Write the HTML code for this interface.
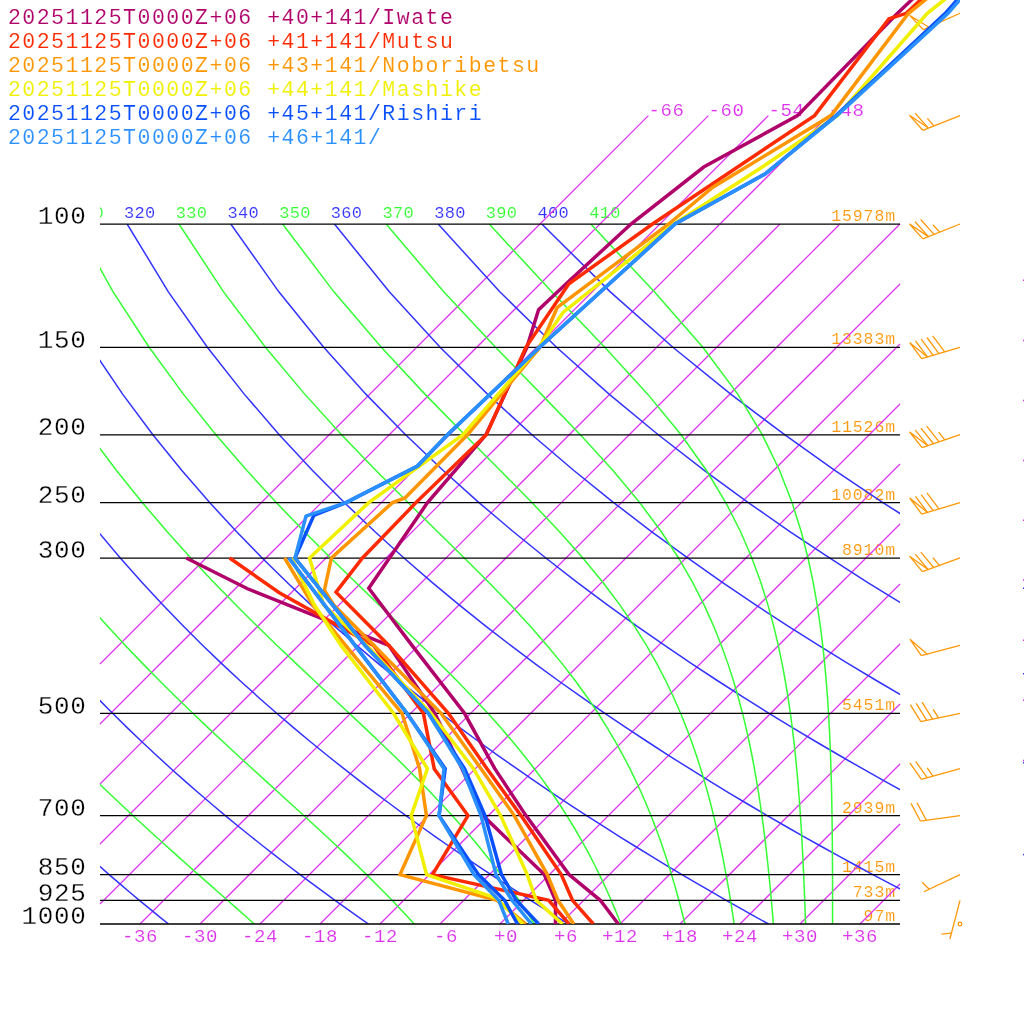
<!DOCTYPE html>
<html lang="en"><head><meta charset="utf-8"><title>Emagram 20251125T0000Z+06</title>
<style>html,body{margin:0;padding:0;background:#fff}body{width:1024px;height:1024px;overflow:hidden}svg{display:block}text{font-family:"Liberation Mono","DejaVu Sans Mono",monospace;stroke:#fff;stroke-width:0.12px;paint-order:fill stroke;stroke-linejoin:round}.plab text{stroke-width:0.3px}.iso{stroke:#DD33EE;fill:none;stroke-width:1.25}.dry{stroke:#3333FF;fill:none;stroke-width:1.5}.wet{stroke:#33FF33;fill:none;stroke-width:1.5}.pl{stroke:#000;stroke-width:1.3;fill:none}.prof{fill:none;stroke-width:3.5;stroke-linejoin:miter;stroke-linecap:butt}.barb{stroke:#FF9808;fill:none;stroke-width:1.3}</style></head><body>
<svg width="1024" height="1024" viewBox="0 0 1024 1024">
<defs><clipPath id="cf"><rect x="100" y="224" width="800" height="700"/></clipPath><clipPath id="cl"><rect x="100" y="0" width="800" height="224"/></clipPath><clipPath id="cp"><rect x="0" y="0" width="960" height="924"/></clipPath></defs>
<g font-size="21.5" letter-spacing="1.5">
<text x="7.9" y="24" fill="#B0006A">20251125T0000Z+06 +40+141/Iwate</text>
<text x="7.9" y="48" fill="#FF2A00">20251125T0000Z+06 +41+141/Mutsu</text>
<text x="7.9" y="72" fill="#FF9600">20251125T0000Z+06 +43+141/Noboribetsu</text>
<text x="7.9" y="96" fill="#F0F000">20251125T0000Z+06 +44+141/Mashike</text>
<text x="7.9" y="120" fill="#0850FF">20251125T0000Z+06 +45+141/Rishiri</text>
<text x="7.9" y="144" fill="#2A90FF">20251125T0000Z+06 +46+141/</text>
</g>
<g font-size="17" letter-spacing="0.3" clip-path="url(#cl)">
<text x="72.4" y="218.2" fill="#33FF33">310</text>
<text x="124.08" y="218.2" fill="#3333FF">320</text>
<text x="175.76" y="218.2" fill="#33FF33">330</text>
<text x="227.45" y="218.2" fill="#3333FF">340</text>
<text x="279.13" y="218.2" fill="#33FF33">350</text>
<text x="330.81" y="218.2" fill="#3333FF">360</text>
<text x="382.49" y="218.2" fill="#33FF33">370</text>
<text x="434.18" y="218.2" fill="#3333FF">380</text>
<text x="485.86" y="218.2" fill="#33FF33">390</text>
<text x="537.54" y="218.2" fill="#3333FF">400</text>
<text x="589.22" y="218.2" fill="#33FF33">410</text>
</g>
<g font-size="16.5" letter-spacing="0.9" fill="#FF9808" text-anchor="end">
<text x="896" y="221">15978m</text>
<text x="896" y="344.26">13383m</text>
<text x="896" y="431.72">11526m</text>
<text x="896" y="499.56">10082m</text>
<text x="896" y="554.98">8910m</text>
<text x="896" y="710.28">5451m</text>
<text x="896" y="812.57">2939m</text>
<text x="896" y="871.59">1415m</text>
<text x="896" y="897.3">733m</text>
<text x="896" y="921">97m</text>
</g>
<g>
<line class="iso" x1="100" y1="664" x2="648.4" y2="115.6"/>
<line class="iso" x1="100" y1="724" x2="708.4" y2="115.6"/>
<line class="iso" x1="100" y1="784" x2="768.4" y2="115.6"/>
<line class="iso" x1="100" y1="844" x2="828.4" y2="115.6"/>
<line class="iso" x1="100" y1="904" x2="780" y2="224"/>
<line class="iso" x1="140" y1="924" x2="840" y2="224"/>
<line class="iso" x1="200" y1="924" x2="900" y2="224"/>
<line class="iso" x1="260" y1="924" x2="900" y2="284"/>
<line class="iso" x1="320" y1="924" x2="900" y2="344"/>
<line class="iso" x1="380" y1="924" x2="900" y2="404"/>
<line class="iso" x1="440" y1="924" x2="900" y2="464"/>
<line class="iso" x1="500" y1="924" x2="900" y2="524"/>
<line class="iso" x1="560" y1="924" x2="900" y2="584"/>
<line class="iso" x1="620" y1="924" x2="900" y2="644"/>
<line class="iso" x1="680" y1="924" x2="900" y2="704"/>
<line class="iso" x1="740" y1="924" x2="900" y2="764"/>
<line class="iso" x1="800" y1="924" x2="900" y2="824"/>
<line class="iso" x1="860" y1="924" x2="900" y2="884"/>
</g>
<g font-size="19" letter-spacing="0.6" fill="#DD33EE">
<text x="158" y="941.8" text-anchor="end">-36</text>
<text x="218" y="941.8" text-anchor="end">-30</text>
<text x="278" y="941.8" text-anchor="end">-24</text>
<text x="338" y="941.8" text-anchor="end">-18</text>
<text x="398" y="941.8" text-anchor="end">-12</text>
<text x="458" y="941.8" text-anchor="end">-6</text>
<text x="518" y="941.8" text-anchor="end">+0</text>
<text x="578" y="941.8" text-anchor="end">+6</text>
<text x="638" y="941.8" text-anchor="end">+12</text>
<text x="698" y="941.8" text-anchor="end">+18</text>
<text x="758" y="941.8" text-anchor="end">+24</text>
<text x="818" y="941.8" text-anchor="end">+30</text>
<text x="878" y="941.8" text-anchor="end">+36</text>
<text x="648.4" y="116" >-66</text>
<text x="708.4" y="116" >-60</text>
<text x="768.4" y="116" >-54</text>
<text x="828.4" y="116" >-48</text>
</g>
<g clip-path="url(#cf)">
<polyline class="dry" points="-287.53,224 -273.56,291.84 -258.18,347.26 -242.23,394.13 -226.13,434.72 -210.11,470.53 -194.27,502.56 -178.69,531.53 -163.4,557.98 -148.4,582.32 -133.71,604.85 -119.31,625.82 -105.21,645.44 -91.39,663.87 -77.85,681.25 -64.57,697.69 -51.55,713.28 -38.76,728.11 -26.22,742.25 -13.9,755.77 -1.79,768.71 10.11,781.12 21.81,793.04 33.32,804.51 44.65,815.57 55.8,826.24 66.78,836.54 77.6,846.51 88.26,856.16 98.77,865.52 109.13,874.59 119.35,883.41 129.44,891.97 139.39,900.3 149.22,908.41 158.92,916.3 168.5,924"/>
<polyline class="dry" points="-183.86,224 -163.08,291.84 -141.8,347.26 -120.61,394.13 -99.79,434.72 -79.45,470.53 -59.63,502.56 -40.33,531.53 -21.56,557.98 -3.28,582.32 14.51,604.85 31.86,625.82 48.77,645.44 65.27,663.87 81.39,681.25 97.15,697.69 112.56,713.28 127.64,728.11 142.41,742.25 156.88,755.77 171.08,768.71 185,781.12 198.67,793.04 212.1,804.51 225.29,815.57 238.26,826.24 251.01,836.54 263.56,846.51 275.92,856.16 288.08,865.52 300.07,874.59 311.87,883.41 323.51,891.97 334.99,900.3 346.31,908.41 357.48,916.3 368.5,924"/>
<polyline class="dry" points="-80.2,224 -52.6,291.84 -25.41,347.26 1.01,394.13 26.55,434.72 51.21,470.53 75.02,502.56 98.03,531.53 120.28,557.98 141.83,582.32 162.73,604.85 183.02,625.82 202.75,645.44 221.94,663.87 240.64,681.25 258.87,697.69 276.66,713.28 294.04,728.11 311.04,742.25 327.66,755.77 343.94,768.71 359.9,781.12 375.53,793.04 390.87,804.51 405.93,815.57 420.72,826.24 435.25,836.54 449.53,846.51 463.58,856.16 477.4,865.52 491,874.59 504.39,883.41 517.59,891.97 530.59,900.3 543.4,908.41 556.04,916.3 568.5,924"/>
<polyline class="dry" points="23.47,224 57.88,291.84 90.97,347.26 122.62,394.13 152.89,434.72 181.87,470.53 209.67,502.56 236.39,531.53 262.12,557.98 286.95,582.32 310.95,604.85 334.19,625.82 356.72,645.44 378.6,663.87 399.88,681.25 420.58,697.69 440.76,713.28 460.45,728.11 479.67,742.25 498.45,755.77 516.81,768.71 534.79,781.12 552.4,793.04 569.65,804.51 586.58,815.57 603.18,826.24 619.48,836.54 635.5,846.51 651.24,856.16 666.71,865.52 681.94,874.59 696.92,883.41 711.66,891.97 726.19,900.3 740.5,908.41 754.6,916.3 768.5,924"/>
<polyline class="dry" points="127.13,224 168.36,291.84 207.35,347.26 244.24,394.13 279.23,434.72 312.53,470.53 344.32,502.56 374.75,531.53 403.96,557.98 432.07,582.32 459.17,604.85 485.36,625.82 510.7,645.44 535.27,663.87 559.12,681.25 582.3,697.69 604.87,713.28 626.85,728.11 648.29,742.25 669.23,755.77 689.68,768.71 709.68,781.12 729.26,793.04 748.43,804.51 767.22,815.57 785.64,826.24 803.72,836.54 821.47,846.51 838.9,856.16 856.03,865.52 872.87,874.59 889.44,883.41 905.74,891.97 921.79,900.3 937.59,908.41 953.16,916.3 968.5,924"/>
<polyline class="dry" points="230.8,224 278.84,291.84 323.73,347.26 365.86,394.13 405.57,434.72 443.19,470.53 478.97,502.56 513.11,531.53 545.8,557.98 577.19,582.32 607.39,604.85 636.53,625.82 664.68,645.44 691.93,663.87 718.36,681.25 744.02,697.69 768.97,713.28 793.25,728.11 816.92,742.25 840.01,755.77 862.55,768.71 884.58,781.12 906.12,793.04 927.21,804.51 947.86,815.57 968.1,826.24 987.95,836.54 1007.43,846.51 1026.56,856.16 1045.34,865.52 1063.81,874.59 1081.96,883.41 1099.81,891.97 1117.39,900.3 1134.68,908.41 1151.72,916.3 1168.5,924"/>
<polyline class="dry" points="334.46,224 389.32,291.84 440.12,347.26 487.47,394.13 531.92,434.72 573.85,470.53 613.62,502.56 651.48,531.53 687.64,557.98 722.31,582.32 755.61,604.85 787.69,625.82 818.66,645.44 848.6,663.87 877.6,681.25 905.74,697.69 933.07,713.28 959.66,728.11 985.55,742.25 1010.79,755.77 1035.42,768.71 1059.47,781.12 1082.98,793.04 1105.99,804.51 1128.5,815.57 1150.56,826.24 1172.19,836.54 1193.4,846.51 1214.22,856.16 1234.66,865.52 1254.74,874.59 1274.48,883.41 1293.89,891.97 1312.98,900.3 1331.78,908.41 1350.28,916.3 1368.5,924"/>
<polyline class="dry" points="438.13,224 499.8,291.84 556.5,347.26 609.09,394.13 658.26,434.72 704.51,470.53 748.27,502.56 789.84,531.53 829.49,557.98 867.43,582.32 903.83,604.85 938.86,625.82 972.63,645.44 1005.26,663.87 1036.84,681.25 1067.46,697.69 1097.17,713.28 1126.06,728.11 1154.18,742.25 1181.57,755.77 1208.28,768.71 1234.36,781.12 1259.85,793.04 1284.76,804.51 1309.15,815.57 1333.03,826.24 1356.42,836.54 1379.37,846.51 1401.88,856.16 1423.97,865.52 1445.68,874.59 1467,883.41 1487.97,891.97 1508.58,900.3 1528.87,908.41 1548.84,916.3 1568.5,924"/>
<polyline class="dry" points="541.79,224 610.29,291.84 672.88,347.26 730.71,394.13 784.6,434.72 835.17,470.53 882.92,502.56 928.2,531.53 971.33,557.98 1012.54,582.32 1052.05,604.85 1090.03,625.82 1126.61,645.44 1161.93,663.87 1196.09,681.25 1229.17,697.69 1261.28,713.28 1292.47,728.11 1322.8,742.25 1352.35,755.77 1381.15,768.71 1409.26,781.12 1436.71,793.04 1463.54,804.51 1489.79,815.57 1515.49,826.24 1540.66,836.54 1565.34,846.51 1589.54,856.16 1613.29,865.52 1636.61,874.59 1659.52,883.41 1682.04,891.97 1704.18,900.3 1725.96,908.41 1747.4,916.3 1768.5,924"/>
<polyline class="wet" points="-235.69,224 -218.32,291.84 -199.99,347.26 -181.42,394.13 -162.96,434.72 -144.78,470.53 -126.95,502.56 -109.51,531.53 -92.48,557.98 -75.85,582.32 -59.61,604.85 -43.75,625.82 -28.26,645.44 -13.13,663.87 1.67,681.25 16.14,697.69 30.28,713.28 44.12,728.11 57.66,742.25 70.91,755.77 83.87,768.71 96.55,781.12 108.95,793.04 121.07,804.51 132.92,815.57 144.51,826.24 155.82,836.54 166.86,846.51 177.63,856.16 188.14,865.52 198.38,874.59 208.36,883.41 218.06,891.97 227.51,900.3 236.69,908.41 245.61,916.3 254.28,924"/>
<polyline class="wet" points="-132.03,224 -107.84,291.84 -83.6,347.26 -59.8,394.13 -36.62,434.72 -14.12,470.53 7.69,502.56 28.83,531.53 49.32,557.98 69.19,582.32 88.47,604.85 107.18,625.82 125.35,645.44 142.99,663.87 160.12,681.25 176.73,697.69 192.84,713.28 208.46,728.11 223.57,742.25 238.19,755.77 252.31,768.71 265.92,781.12 279.04,793.04 291.66,804.51 303.79,815.57 315.42,826.24 326.58,836.54 337.25,846.51 347.47,856.16 357.23,865.52 366.55,874.59 375.45,883.41 383.94,891.97 392.05,900.3 399.77,908.41 407.15,916.3 414.18,924"/>
<polyline class="wet" points="-28.36,224 2.64,291.84 32.78,347.26 61.81,394.13 89.71,434.72 116.5,470.53 142.24,502.56 167,531.53 190.8,557.98 213.7,582.32 235.7,604.85 256.82,625.82 277.07,645.44 296.43,663.87 314.91,681.25 332.49,697.69 349.18,713.28 364.98,728.11 379.89,742.25 393.93,755.77 407.13,768.71 419.52,781.12 431.12,793.04 441.99,804.51 452.16,815.57 461.67,826.24 470.57,836.54 478.9,846.51 486.7,856.16 494.02,865.52 500.88,874.59 507.32,883.41 513.37,891.97 519.07,900.3 524.44,908.41 529.51,916.3 534.3,924"/>
<polyline class="wet" points="75.3,224 113.12,291.84 149.15,347.26 183.38,394.13 215.92,434.72 246.86,470.53 276.28,502.56 304.2,531.53 330.65,557.98 355.6,582.32 379.03,604.85 400.93,625.82 421.27,645.44 440.09,663.87 457.41,681.25 473.29,697.69 487.82,713.28 501.09,728.11 513.19,742.25 524.24,755.77 534.32,768.71 543.53,781.12 551.96,793.04 559.69,804.51 566.79,815.57 573.33,826.24 579.37,836.54 584.95,846.51 590.13,856.16 594.94,865.52 599.42,874.59 603.6,883.41 607.52,891.97 611.19,900.3 614.63,908.41 617.88,916.3 620.94,924"/>
<polyline class="wet" points="178.96,224 223.58,291.84 265.44,347.26 304.71,394.13 341.54,434.72 375.95,470.53 407.93,502.56 437.41,531.53 464.32,557.98 488.65,582.32 510.46,604.85 529.87,625.82 547.07,645.44 562.27,663.87 575.69,681.25 587.56,697.69 598.08,713.28 607.42,728.11 615.76,742.25 623.21,755.77 629.91,768.71 635.96,781.12 641.43,793.04 646.41,804.51 650.95,815.57 655.1,826.24 658.92,836.54 662.44,846.51 665.7,856.16 668.71,865.52 671.52,874.59 674.13,883.41 676.58,891.97 678.87,900.3 681.03,908.41 683.05,916.3 684.96,924"/>
<polyline class="wet" points="282.6,224 333.93,291.84 381.32,347.26 424.92,394.13 464.67,434.72 500.37,470.53 531.91,502.56 559.31,531.53 582.82,557.98 602.82,582.32 619.79,604.85 634.19,625.82 646.45,645.44 656.94,663.87 665.97,681.25 673.78,697.69 680.6,713.28 686.57,728.11 691.83,742.25 696.51,755.77 700.68,768.71 704.42,781.12 707.78,793.04 710.83,804.51 713.61,815.57 716.14,826.24 718.46,836.54 720.59,846.51 722.56,856.16 724.38,865.52 726.08,874.59 727.66,883.41 729.13,891.97 730.51,900.3 731.81,908.41 733.03,916.3 734.19,924"/>
<polyline class="wet" points="386.14,224 443.77,291.84 495.56,347.26 541.22,394.13 580.36,434.72 612.99,470.53 639.64,502.56 661.17,531.53 678.53,557.98 692.59,582.32 704.07,604.85 713.52,625.82 721.39,645.44 728,663.87 733.6,681.25 738.39,697.69 742.52,713.28 746.11,728.11 749.24,742.25 752,755.77 754.44,768.71 756.62,781.12 758.57,793.04 760.32,804.51 761.91,815.57 763.35,826.24 764.66,836.54 765.86,846.51 766.96,856.16 767.98,865.52 768.92,874.59 769.8,883.41 770.62,891.97 771.38,900.3 772.1,908.41 772.77,916.3 773.41,924"/>
<polyline class="wet" points="489.23,224 551.72,291.84 604.75,347.26 647.69,394.13 681.09,434.72 706.5,470.53 725.77,502.56 740.48,531.53 751.86,557.98 760.79,582.32 767.9,604.85 773.63,625.82 778.3,645.44 782.16,663.87 785.37,681.25 788.07,697.69 790.36,713.28 792.32,728.11 794,742.25 795.45,755.77 796.72,768.71 797.82,781.12 798.8,793.04 799.66,804.51 800.42,815.57 801.11,826.24 801.72,836.54 802.28,846.51 802.78,856.16 803.23,865.52 803.65,874.59 804.03,883.41 804.39,891.97 804.71,900.3 805.02,908.41 805.3,916.3 805.57,924"/>
<polyline class="wet" points="590.74,224 654.35,291.84 702.85,347.26 737.72,394.13 762.25,434.72 779.58,470.53 792.03,502.56 801.17,531.53 807.99,557.98 813.18,582.32 817.18,604.85 820.3,625.82 822.75,645.44 824.7,663.87 826.26,681.25 827.52,697.69 828.53,713.28 829.34,728.11 830.01,742.25 830.54,755.77 830.98,768.71 831.33,781.12 831.61,793.04 831.84,804.51 832.02,815.57 832.16,826.24 832.28,836.54 832.36,846.51 832.43,856.16 832.48,865.52 832.51,874.59 832.54,883.41 832.55,891.97 832.56,900.3 832.56,908.41 832.56,916.3 832.56,924"/>
</g>
<g>
<line class="pl" x1="100" y1="224.2" x2="900" y2="224.2"/>
<line class="pl" x1="100" y1="347.43" x2="900" y2="347.43"/>
<line class="pl" x1="100" y1="434.86" x2="900" y2="434.86"/>
<line class="pl" x1="100" y1="502.68" x2="900" y2="502.68"/>
<line class="pl" x1="100" y1="558.09" x2="900" y2="558.09"/>
<line class="pl" x1="100" y1="713.34" x2="900" y2="713.34"/>
<line class="pl" x1="100" y1="815.6" x2="900" y2="815.6"/>
<line class="pl" x1="100" y1="874.61" x2="900" y2="874.61"/>
<line class="pl" x1="100" y1="900.31" x2="900" y2="900.31"/>
<line class="pl" x1="100" y1="924" x2="900" y2="924"/>
</g>
<g font-size="26" letter-spacing="0.6" fill="#000" text-anchor="end" class="plab">
<text x="86.4" y="224.3">100</text>
<text x="86.4" y="347.56">150</text>
<text x="86.4" y="435.02">200</text>
<text x="86.4" y="502.86">250</text>
<text x="86.4" y="558.28">300</text>
<text x="86.4" y="713.58">500</text>
<text x="86.4" y="815.87">700</text>
<text x="86.4" y="874.89">850</text>
<text x="86.4" y="900.6">925</text>
<text x="86.4" y="924.3">1000</text>
</g>
<g class="barb">
<line x1="960" y1="13.28" x2="923.53" y2="29.7"/>
<polyline points="923.53,29.7 909.57,15.38 929,27.24"/>
<line x1="960" y1="115.57" x2="922.8" y2="130.28"/>
<polyline points="922.8,130.28 909.53,115.32 928.38,128.07"/>
<polyline points="928.38,128.07 915.11,113.11"/>
<polyline points="933.96,125.87 927.33,118.39"/>
<line x1="960" y1="224" x2="922.86" y2="238.86"/>
<polyline points="922.86,238.86 909.53,223.95 928.43,236.63"/>
<polyline points="928.43,236.63 915.1,221.72"/>
<polyline points="934,234.4 920.67,219.49"/>
<polyline points="939.57,232.17 932.91,224.72"/>
<line x1="960" y1="347.26" x2="921.67" y2="358.7"/>
<polyline points="921.67,358.7 909.74,342.65 927.42,356.98"/>
<polyline points="927.42,356.98 915.49,340.93"/>
<polyline points="933.17,355.27 921.24,339.21"/>
<polyline points="938.92,353.55 926.99,337.5"/>
<polyline points="944.67,351.84 932.74,335.78"/>
<line x1="960" y1="434.72" x2="922.13" y2="447.59"/>
<polyline points="922.13,447.59 909.6,431.99 927.81,445.66"/>
<polyline points="927.81,445.66 915.28,430.06"/>
<polyline points="933.49,443.73 920.97,428.13"/>
<polyline points="939.17,441.8 926.65,426.2"/>
<polyline points="944.85,439.87 938.59,432.07"/>
<line x1="960" y1="502.56" x2="921.71" y2="514.14"/>
<polyline points="921.71,514.14 909.72,498.13 927.46,512.4"/>
<polyline points="927.46,512.4 915.47,496.39"/>
<polyline points="933.2,510.66 921.21,494.65"/>
<polyline points="938.94,508.93 926.95,492.92"/>
<line x1="960" y1="557.98" x2="922.37" y2="571.56"/>
<polyline points="922.37,571.56 909.56,556.2 928.02,569.52"/>
<polyline points="928.02,569.52 915.21,554.16"/>
<polyline points="933.66,567.48 920.85,552.13"/>
<polyline points="939.3,565.45 932.9,557.77"/>
<line x1="960" y1="645.44" x2="921.31" y2="655.6"/>
<polyline points="921.31,655.6 909.92,639.16 927.11,654.07"/>
<line x1="960" y1="713.28" x2="920.87" y2="721.56"/>
<polyline points="920.87,721.56 910.28,704.6"/>
<polyline points="926.74,720.32 916.15,703.35"/>
<polyline points="932.61,719.08 922.02,702.11"/>
<polyline points="938.48,717.84 933.18,709.35"/>
<line x1="960" y1="768.71" x2="921.42" y2="779.28"/>
<polyline points="921.42,779.28 909.86,762.97"/>
<polyline points="927.21,777.7 915.64,761.38"/>
<polyline points="933,776.11 927.21,767.95"/>
<line x1="960" y1="815.57" x2="920.38" y2="821.07"/>
<polyline points="920.38,821.07 911.02,803.4"/>
<polyline points="926.32,820.25 916.96,802.58"/>
<line x1="960" y1="874.59" x2="923.87" y2="891.76"/>
<polyline points="929.29,889.19 922.17,882.17"/>
<line x1="960" y1="900.3" x2="949.9" y2="939"/>
<polyline points="951.41,933.2 941.45,934.13"/>
<circle cx="960" cy="924" r="1.8"/>
</g>
<g clip-path="url(#cp)">
<polyline class="prof" stroke="#B0006A" points="932.5,-20 897.5,13.3 797.5,115.6 703.75,167 631,224 567.5,282.5 538.6,309.6 526.9,347.3 486,434.7 427.5,502.6 368.75,588.3 412,645.4 464.5,713.3 494.8,768.7 526,815.6 569,874.6 600.3,900.3 618.3,924"/>
<polyline class="prof" stroke="#B0006A" points="186.25,558 247.5,588.75 388.9,645.4 434.8,713.3 462,768.7 483,815.6 544.3,874.6 555.5,900.3 555.5,924"/>
<polyline class="prof" stroke="#FF2A00" points="942,-20 906.2,13.3 889,18.75 814.5,115.6 652.5,224 568.9,283.8 525.9,347.3 486.25,434.7 416,502.6 362.5,558 336,592.2 388.9,645.4 448.4,713.3 487,768.7 521,815.6 561.25,874.6 572.5,900.3 593.3,924"/>
<polyline class="prof" stroke="#FF2A00" points="229.6,558 279.3,592.8 373.5,645.4 423.4,713.3 434.2,768.7 468,815.6 432.5,874.6 548.75,900.3 569,924"/>
<polyline class="prof" stroke="#FF9600" points="950,-20 908.5,13.3 831,115.6 712.5,187.5 668.75,224 557.1,307.7 540,347.3 467.5,434.7 405,498 392.5,502.6 331.4,558 324.4,590.25 333.5,604.8 374,645.4 441,713.3 481,768.7 514.3,815.6 547.3,874.6 558,900.3 573.75,924"/>
<polyline class="prof" stroke="#FF9600" points="284.6,558 312.7,604.8 345.6,645.4 402,713.3 419.6,768.7 426.4,815.6 400,874.6 497,900.3 525.8,924"/>
<polyline class="prof" stroke="#F0F000" points="969,-20 927.3,13.3 837.5,115.6 766,164.5 674,224 563,312.5 539,347.3 463,434.7 368.75,502.6 309.5,558 323.5,604.8 366.8,645.4 431,713.3 473.5,768.7 500.6,815.6 527.2,874.6 536.25,900.3 562.5,924"/>
<polyline class="prof" stroke="#F0F000" points="291.6,558 314.3,604.8 341,645.4 393.5,713.3 427.4,768.7 411.2,815.6 426.6,874.6 496,898 523,924"/>
<polyline class="prof" stroke="#0850FF" points="974.8,-20 945.3,13.3 836,115.6 765,174 675,224 539.6,347.3 447.5,434.7 417.5,466 346,502.6 313.75,515.5 295,558 365,645.4 428.4,713.3 464.5,768.7 485,815.6 501.5,874.6 516.3,900.3 538.6,924"/>
<polyline class="prof" stroke="#0850FF" points="289,558 355,645.4 406.9,713.3 445.2,768.7 439.1,815.6 478.5,874.6 504.6,900.3 517.5,924"/>
<polyline class="prof" stroke="#2A90FF" points="977,-20 948,13.3 836.8,115.6 765,174 675,224 539.6,347.3 447.5,434.7 417.5,466 346,502.6 306,516 295,558 365,645.4 428.4,713.3 462.5,768.7 481,815.6 496,874.6 512,900.3 531.5,924"/>
<polyline class="prof" stroke="#2A90FF" points="289,558 355,645.4 406.9,713.3 444,768.7 439.1,815.6 474,874.6 498.75,900.3 508.2,924"/>
</g>
<g>
<rect x="1023" y="279.5" width="1" height="1.5" fill="#DD33EE"/>
<rect x="1023" y="339.75" width="1" height="1.5" fill="#DD33EE"/>
<rect x="1023" y="399.75" width="1" height="1.5" fill="#DD33EE"/>
<rect x="1023" y="459.75" width="1" height="1.5" fill="#DD33EE"/>
<rect x="1023" y="519.5" width="1" height="1.5" fill="#DD33EE"/>
<rect x="1023" y="579.25" width="1" height="1.5" fill="#DD33EE"/>
<rect x="1023" y="639.5" width="1" height="1.5" fill="#DD33EE"/>
<rect x="1023" y="699.5" width="1" height="1.5" fill="#DD33EE"/>
<rect x="1023" y="759.75" width="1" height="1.5" fill="#DD33EE"/>
<rect x="1023" y="587.5" width="1" height="1.5" fill="#3333FF"/>
<rect x="1023" y="673" width="1" height="1.5" fill="#3333FF"/>
<rect x="1023" y="762" width="1" height="1.5" fill="#3333FF"/>
<rect x="1023" y="853.85" width="1" height="1.5" fill="#3333FF"/>
</g>
</svg></body></html>
